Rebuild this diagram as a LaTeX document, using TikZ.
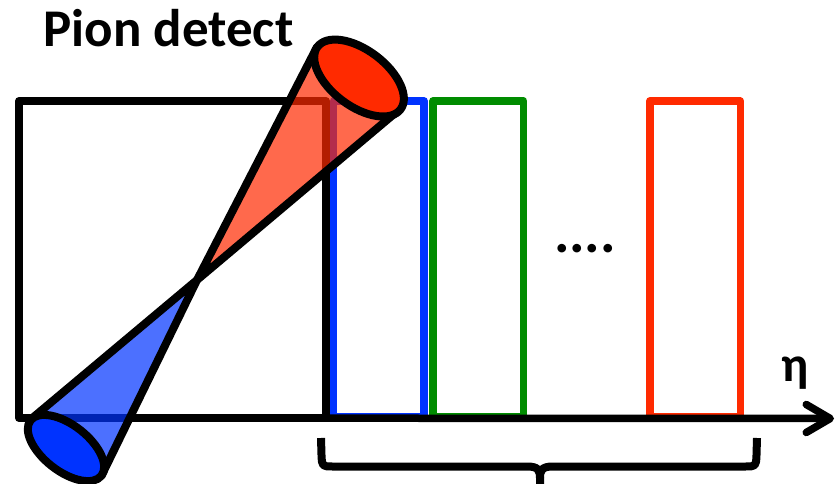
\documentclass[tikz,border=0pt]{standalone}
\usepackage{fontspec}
\setmainfont{Carlito}
\usetikzlibrary{arrows.meta}
\definecolor{conered}{RGB}{255,42,0}
\definecolor{coneblue}{RGB}{0,51,255}
\definecolor{bingreen}{RGB}{0,140,0}
\definecolor{binblue}{RGB}{0,51,255}
\definecolor{binred}{RGB}{255,42,0}
\begin{document}
\begin{tikzpicture}[x=1pt,y=-1pt,
  detbox/.style={draw=black, line width=8pt, line join=round, inner sep=0pt, outer sep=0pt,
                 minimum width=307pt, minimum height=317pt},
  binbox/.style={draw=#1, line width=7.5pt, line join=round, inner sep=0pt, outer sep=0pt,
                 minimum width=90.5pt, minimum height=316pt},
  conebody/.style={fill=#1, fill opacity=0.7},
  coneline/.style={draw=black, line width=8pt, line join=round, line cap=round},
  bracket/.style={draw=black, line width=8pt, line cap=butt, line join=round},
  axisline/.style={draw=black, line width=7.5pt, -{Straight Barb[length=24pt, width=28pt, round]}}
]
\useasboundingbox (0,0) rectangle (837,484);

% detector volume and the eta bins
\node[detbox] (det) at (172.5,259.5) {};
\node[binbox=binblue]  (bin1) at (378.75,259) {};
\node[binbox=bingreen] (bin2) at (478.25,259) {};
\node[binbox=binred]   (bin3) at (695,259) {};

% eta axis
\coordinate (axend) at (834,418.5);
\draw[axisline] (det.south west) -- (axend);
\node[anchor=base, font=\bfseries\fontsize{50}{56}\selectfont] (eta) at (795,381) {η};

% gap between the bins
\node[anchor=base, font=\bfseries\fontsize{58}{60}\selectfont] (dots) at (585,252) {....};

% bracket under the bins
\coordinate (bl) at (321,438);
\coordinate (br) at (757,438);
\coordinate (bm) at (540,490);
\draw[bracket] (bl) -- (321.5,455) .. controls (322,466.5) .. (333,466.5) -- (527,466.5)
  .. controls (538,466.5) and (540,470) .. (540,478) -- (bm);
\draw[bracket] (br) -- (756.5,455) .. controls (756,466.5) .. (745,466.5) -- (553,466.5)
  .. controls (542,466.5) and (540,470) .. (540,478);

% double cone through the interaction point
\coordinate (apex) at (197,280);
\coordinate (rc) at (359,78);
\coordinate (r1) at (317,47);
\coordinate (r2) at (400,109);
\coordinate (bc) at (66,448);
\coordinate (b1) at (30,420);
\coordinate (b2) at (101.5,475.7);

\fill[conebody=conered] (apex) -- (r1) -- (r2) -- cycle;
\fill[conebody=coneblue] (apex) -- (b1) -- (b2) -- cycle;
\draw[coneline] (r1) -- (apex) -- (r2);
\draw[coneline] (b1) -- (apex) -- (b2);
\draw[coneline, fill=conered, rotate around={-37:(rc)}] (rc) ellipse [x radius=52pt, y radius=28pt];
\draw[coneline, fill=coneblue, rotate around={-38:(bc)}] (bc) ellipse [x radius=45pt, y radius=23pt];

% title
\node[anchor=base west, font=\bfseries\fontsize{53}{60}\selectfont] (title) at (40,47) {Pion detect};
\end{tikzpicture}
\end{document}
